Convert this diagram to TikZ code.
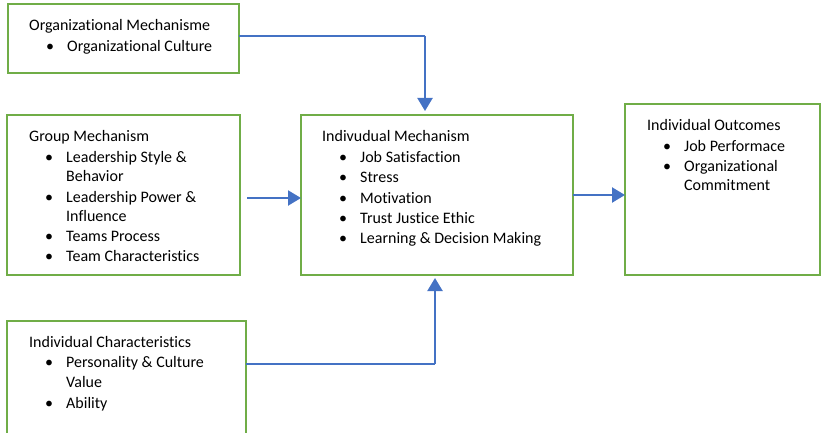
\documentclass[tikz,border=0pt]{standalone}
\usepackage{fontspec}
\setmainfont{Carlito}[Ligatures={NoCommon}]
\usetikzlibrary{arrows.meta}
\definecolor{boxgreen}{RGB}{112,173,71}
\definecolor{arrowblue}{RGB}{68,114,196}
\tikzset{
  box/.style={draw=boxgreen, line width=2pt, anchor=north west, outer sep=0pt, inner sep=0pt},
  txt/.style={anchor=base west, inner sep=0pt, font=\fontsize{16}{19}\selectfont},
  link/.style={draw=arrowblue, line width=1.2pt},
  arr/.style={draw=arrowblue, line width=2.2pt, -{Triangle[width=15pt,length=13pt]}}
}
\begin{document}
\begin{tikzpicture}[x=1pt,y=-1pt]
\useasboundingbox (0,0) rectangle (821,433);
\clip (0,0) rectangle (821,433);

% boxes
\node[box, minimum width=231pt, minimum height=69pt] (orgmech) at (8,4) {};
\node[box, minimum width=233pt, minimum height=160pt] (grpmech) at (7,115) {};
\node[box, minimum width=272pt, minimum height=160pt] (indmech) at (301,115) {};
\node[box, minimum width=195pt, minimum height=171pt] (outcome) at (625,104) {};
\node[box, minimum width=239pt, minimum height=124pt] (indchar) at (7,321) {};

% titles
\node[txt] (orgtitle) at (29,31) {Organizational Mechanisme};
\node[txt] (grptitle) at (29,141) {Group Mechanism};
\node[txt] (indtitle) at (322,142) {Indivudual Mechanism};
\node[txt] (outtitle) at (647,130) {Individual Outcomes};
\node[txt] (chartitle) at (29,347) {Individual Characteristics};

% list lines
\node[txt] (org1) at (67,52) {Organizational Culture};
\foreach \y/\t [count=\i] in {162/Leadership Style \&, 181/Behavior,
    202/Leadership Power \&, 221/Influence, 241/Teams Process, 261/Team Characteristics}
  \node[txt] (grp\i) at (66,\y) {\t};
\foreach \y/\t [count=\i] in {162/Job Satisfaction, 182/Stress, 203/Motivation,
    223/Trust Justice Ethic, 243/Learning \& Decision Making}
  \node[txt] (ind\i) at (360,\y) {\t};
\foreach \y/\t [count=\i] in {151/Job Performace, 171/Organizational, 190/Commitment}
  \node[txt] (out\i) at (684,\y) {\t};
\foreach \y/\t [count=\i] in {367/Personality \& Culture, 387/Value, 408/Ability}
  \node[txt] (char\i) at (66,\y) {\t};

% bullets
\node[txt] (orgb1) at (46,52) {\textbullet};
\foreach \y [count=\i] in {162,202,241,261}
  \node[txt] (grpb\i) at (45,\y) {\textbullet};
\foreach \y [count=\i] in {162,182,203,223,243}
  \node[txt] (indb\i) at (339,\y) {\textbullet};
\foreach \y [count=\i] in {151,171}
  \node[txt] (outb\i) at (663,\y) {\textbullet};
\foreach \y [count=\i] in {367,408}
  \node[txt] (charb\i) at (45,\y) {\textbullet};

% connectors
\coordinate (bend1) at (425,36);
\coordinate (bend2) at (435,364);
\draw[link] (orgmech.east |- bend1) -- (bend1);
\draw[arr] (bend1) -- ([yshift=4pt]bend1 |- indmech.north);
\draw[link] (indchar.east |- bend2) -- (bend2);
\draw[arr] (bend2) -- ([yshift=-3pt]bend2 |- indmech.south);
\draw[arr] ([xshift=7pt,yshift=-3pt]grpmech.east) -- ([yshift=-3pt]indmech.west);
\draw[arr] (indmech.east) -- (outcome.west |- indmech.east);
\end{tikzpicture}
\end{document}
